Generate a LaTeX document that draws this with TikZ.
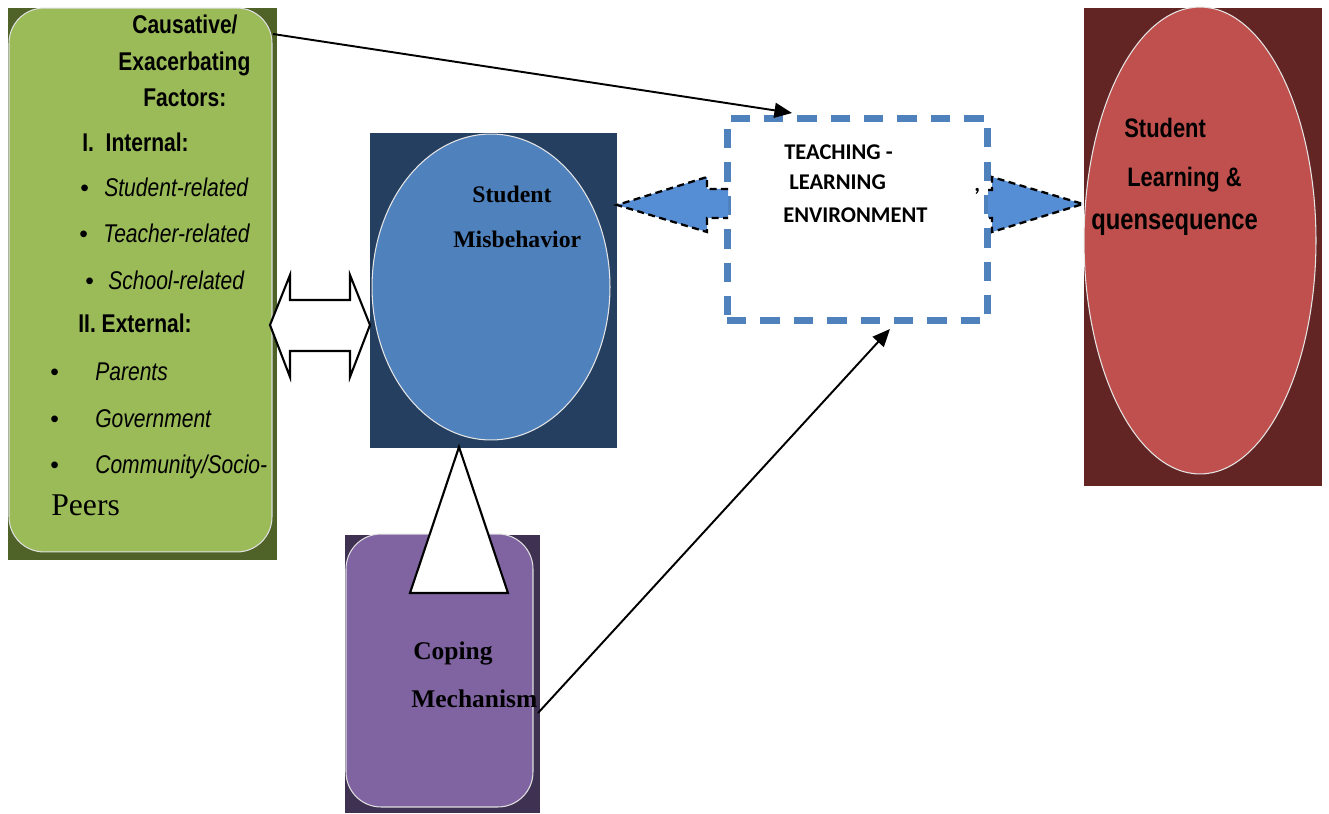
\documentclass[tikz,border=0pt]{standalone}
\usepackage{fontspec}
\setmainfont{Liberation Sans}
\newfontfamily\narrowfont[FakeStretch=0.82]{Liberation Sans}
\newfontfamily\timesfont{Liberation Serif}
\newfontfamily\envfont{Carlito}
\usetikzlibrary{arrows.meta,positioning,shapes.geometric,calc}
\definecolor{factgreen}{HTML}{9BBB59}
\definecolor{factdark}{HTML}{4F6228}
\definecolor{misblue}{HTML}{4F81BD}
\definecolor{misdark}{HTML}{243F60}
\definecolor{learnred}{HTML}{C0504D}
\definecolor{learndark}{HTML}{632523}
\definecolor{copepurple}{HTML}{8064A2}
\definecolor{copedark}{HTML}{3F3151}
\definecolor{blockblue}{HTML}{558ED5}

\begin{document}
\begin{tikzpicture}[x=0.02cm,y=-0.02cm,
  backrect/.style={inner sep=0,outer sep=0},
  card/.style={draw=white!75!gray,line width=0.6pt,rounded corners=0.7cm,inner sep=0},
  oval/.style={ellipse,draw=white!80!gray,line width=0.6pt,inner sep=0},
  txt/.style={anchor=base west,inner sep=0,font=\narrowfont\fontsize{14.6}{17}\selectfont},
  bullet/.style={anchor=base west,inner sep=0,font=\fontsize{14}{16}\selectfont},
  bold/.style={txt,font=\narrowfont\fontsize{14.6}{17}\selectfont\bfseries},
  ital/.style={txt,font=\narrowfont\fontsize{14.6}{17}\selectfont\itshape},
  serifb/.style={txt,font=\timesfont\fontsize{13.5}{16}\selectfont\bfseries},
  envtxt/.style={txt,font=\envfont\fontsize{12.8}{15}\selectfont\bfseries},
  link/.style={line width=1.1pt,-{Triangle[length=10pt,width=8.5pt]}},
  blockarrow/.style={fill=blockblue},
  blockedge/.style={black,line width=1.3pt,dash pattern=on 4pt off 2.5pt},
]
  \useasboundingbox (0,0) rectangle (1329,814);

  % causative / exacerbating factors
  \node[backrect,fill=factdark,minimum width=5.38cm,minimum height=11.04cm] (factback) at (142.5,284) {};
  \node[card,fill=factgreen,minimum width=5.26cm,minimum height=10.88cm] (factors) at (140.5,280) {};
  \node[bold] (f1) at (132,34) {Causative/};
  \node[bold] (f2) at (118,71) {Exacerbating};
  \node[bold] (f3) at (143,107) {Factors:};
  \node[bold] (f4) at (82,152) {I.\ \ Internal:};
  \node[bullet] (b1) at (80,197) {\textbullet};
  \node[ital] (f5) at (104,197) {Student-related};
  \node[bullet] (b2) at (79,243) {\textbullet};
  \node[ital] (f6) at (103,243) {Teacher-related};
  \node[bullet] (b3) at (85,290) {\textbullet};
  \node[ital] (f7) at (108,290) {School-related};
  \node[bold] (f8) at (78,333) {II. External:};
  \node[bullet] (b4) at (50,380) {\textbullet};
  \node[ital] (f9) at (95,380) {Parents};
  \node[bullet] (b5) at (50,427) {\textbullet};
  \node[ital] (f10) at (95,427) {Government};
  \node[bullet] (b6) at (50,473) {\textbullet};
  \node[ital] (f11) at (95,473) {Community/Socio-};
  \node[txt,font=\timesfont\fontsize{18}{20}\selectfont] (f12) at (51,515) {Peers};

  % student misbehavior
  \node[backrect,fill=misdark,minimum width=4.94cm,minimum height=6.3cm] (misback) at (493.5,290.5) {};
  \node[oval,fill=misblue,minimum width=4.76cm,minimum height=6.12cm] (misbehavior) at (491,287) {};
  \node[serifb] (m1) at (472,203) {Student};
  \node[serifb] (m2) at (453,248) {Misbehavior};

  % double arrow between factors and misbehavior
  \draw[line width=1.2pt,fill=white,line join=miter]
    (270,325) -- (290,275) -- (290,300) -- (350,300) -- (350,275) -- (370,325)
    -- (350,377) -- (350,351) -- (290,351) -- (290,377) -- cycle;

  % coping mechanism
  \node[backrect,fill=copedark,minimum width=3.9cm,minimum height=5.56cm] (copeback) at (442.5,674) {};
  \node[card,fill=copepurple,minimum width=3.74cm,minimum height=5.46cm] (coping) at (439.5,670.5) {};
  \node[serifb,font=\timesfont\fontsize{14.5}{17}\selectfont\bfseries] (c1) at (413,659) {Coping};
  \node[serifb,font=\timesfont\fontsize{14.5}{17}\selectfont\bfseries] (c2) at (411,707) {Mechanism};
  \draw[line width=1.2pt,fill=white] (459,447) -- (508,593) -- (410,593) -- cycle;

  % teaching-learning environment
  \node[draw=misblue,line width=4pt,dash pattern=on 11pt off 8pt,minimum width=5.22cm,minimum height=4.04cm,inner sep=0] (env) at (857.5,219.5) {};
  \node[envtxt] (e1) at (784,160) {TEACHING -};
  \node[envtxt] (e2) at (789,190) {LEARNING};
  \node[envtxt] (e3) at (974,192) {,};
  \node[envtxt] (e4) at (783,223) {ENVIRONMENT};

  % student learning & consequence
  \node[backrect,fill=learndark,minimum width=4.76cm,minimum height=9.56cm] (learnback) at (1203,247) {};
  \node[oval,fill=learnred,minimum width=4.64cm,minimum height=9.34cm] (learning) at (1200,240.5) {};
  \node[bold,font=\narrowfont\fontsize{15.2}{18}\selectfont\bfseries] (l1) at (1124,138) {Student};
  \node[bold,font=\narrowfont\fontsize{15.2}{18}\selectfont\bfseries] (l2) at (1127,187) {Learning \&};
  \node[bold,font=\narrowfont\fontsize{16.5}{19}\selectfont\bfseries] (l3) at (1091,230) {quensequence};

  % block arrows out of the environment box
  \fill[blockarrow] (728,189) -- (707,189) -- (707,177) -- (617,205) -- (707,232) -- (707,218) -- (728,218) -- cycle;
  \draw[blockedge] (728,189) -- (707,189) -- (707,177) -- (617,205) -- (707,232) -- (707,218) -- (728,218);
  \fill[blockarrow] (988,190) -- (992,190) -- (992,177) -- (1083,204) -- (992,232) -- (992,218) -- (988,218) -- cycle;
  \draw[blockedge] (988,190) -- (992,190) -- (992,177) -- (1083,204) -- (992,232) -- (992,218) -- (988,218);

  % connectors
  \coordinate (factout) at (273,34);
  \coordinate (envtop) at (792,113);
  \coordinate (copeout) at (538,713);
  \coordinate (envbottom) at (890,329);
  \draw[link] (factout) -- (envtop);
  \draw[link] (copeout) -- (envbottom);
\end{tikzpicture}
\end{document}
